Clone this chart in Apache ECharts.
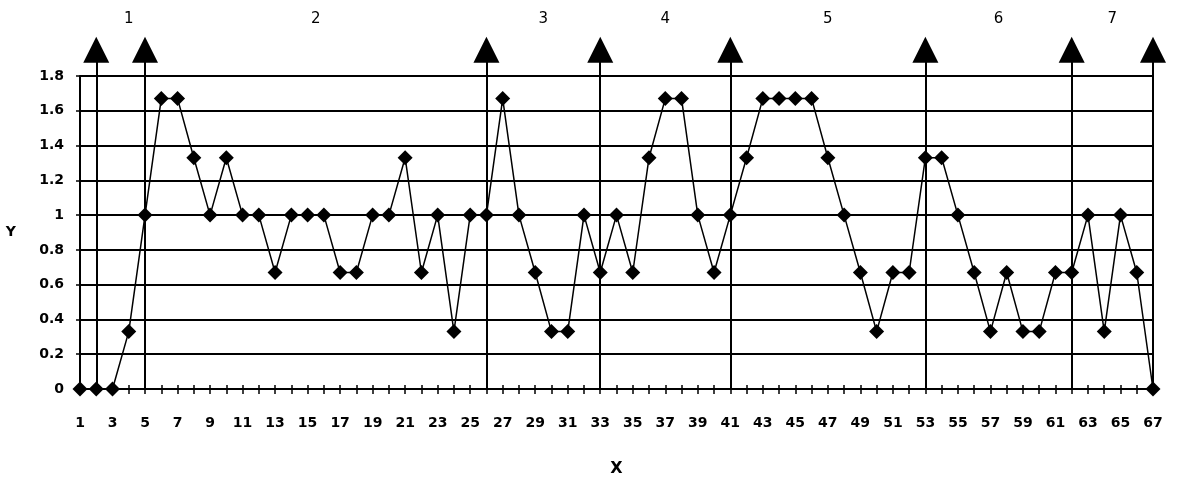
<!DOCTYPE html>
<html>
<head>
<meta charset="utf-8">
<script src="https://cdn.jsdelivr.net/npm/echarts@6/dist/echarts.min.js"></script>
<style>
html,body{margin:0;padding:0;background:#fff;}
#chart{width:1178px;height:482px;}
</style>
</head>
<body>
<div id="chart"></div>
<script>
const categories = ['1','2','3','4','5','6','7','8','9','10','11','12','13','14','15','16','17','18','19','20','21','22','23','24','25','26','27','28','29','30','31','32','33','34','35','36','37','38','39','40','41','42','43','44','45','46','47','48','49','50','51','52','53','54','55','56','57','58','59','60','61','62','63','64','65','66','67'];
const yValues = [0,0,0,0.33,1,1.67,1.67,1.33,1,1.33,1,1,0.67,1,1,1,0.67,0.67,1,1,1.33,0.67,1,0.33,1,1,1.67,1,0.67,0.33,0.33,1,0.67,1,0.67,1.33,1.67,1.67,1,0.67,1,1.33,1.67,1.67,1.67,1.67,1.33,1,0.67,0.33,0.67,0.67,1.33,1.33,1,0.67,0.33,0.67,0.33,0.33,0.67,0.67,1,0.33,1,0.67,0];
const boundaries = [2,5,26,33,41,53,62,67];
const sectionNames = ['1','2','3','4','5','6','7'];
const sectionPositions = [4,15.5,29.5,37,47,57.5,64.5];

const chart = echarts.init(document.getElementById('chart'), null, {renderer:'canvas'});
const FONT = '"DejaVu Sans", "Liberation Sans", Arial, sans-serif';
const axisLabelStyle = {color:'#000', fontFamily:FONT, fontWeight:'bold', fontSize:14};

chart.setOption({
  animation:false,
  backgroundColor:'#fff',
  grid:[
    {left:80, right:25, top:76, bottom:92},
    {left:80, right:25, top:6, bottom:92}
  ],
  xAxis:[
    {type:'category', gridIndex:0, data:categories, boundaryGap:false,
     name:'X', nameLocation:'middle', nameGap:72,
     nameTextStyle:{color:'#000', fontFamily:FONT, fontWeight:'bold', fontSize:16},
     axisLine:{lineStyle:{color:'#000', width:2}},
     axisTick:{show:true, interval:0, length:5, lineStyle:{color:'#000', width:1.5}},
     axisLabel:Object.assign({interval:1, margin:27}, axisLabelStyle),
     splitLine:{show:false}},
    {type:'category', gridIndex:0, data:categories, boundaryGap:false, position:'bottom',
     axisLine:{show:false},
     axisTick:{show:true, inside:true, interval:0, length:4, lineStyle:{color:'#000', width:1.5}},
     axisLabel:{show:false}, splitLine:{show:false}},
    {type:'value', gridIndex:1, min:1, max:67, show:false}
  ],
  yAxis:[
    {type:'value', gridIndex:0, min:0, max:1.8, interval:0.2,
     name:'Y', nameLocation:'middle', nameGap:64, nameRotate:0,
     nameTextStyle:{color:'#000', fontFamily:FONT, fontWeight:'bold', fontSize:14, padding:[40,0,0,0]},
     axisLine:{show:true, lineStyle:{color:'#000', width:2}},
     axisTick:{show:true, length:4, lineStyle:{color:'#000', width:1.5}},
     axisLabel:Object.assign({margin:16, formatter:function(v){return String(Math.round(v*10)/10);}}, axisLabelStyle),
     splitLine:{show:true, lineStyle:{color:'#000', width:2}}},
    {type:'value', gridIndex:1, min:0, max:2.2, show:false}
  ],
  series:[
    {type:'scatter', xAxisIndex:2, yAxisIndex:1, data:[], silent:true, clip:false,
     markLine:{
       silent:true, animation:false,
       symbol:['none','triangle'], symbolSize:[26,26],
       lineStyle:{color:'#000', width:2, type:'solid'},
       label:{show:false},
       data: boundaries.map(b => [{coord:[b,0]},{coord:[b,1.95]}])
     },
     markPoint:{
       silent:true, animation:false,
       symbol:'circle', symbolSize:1,
       itemStyle:{color:'rgba(0,0,0,0)'},
       label:{show:true, position:'inside', formatter:'{b}', color:'#000', fontFamily:FONT, fontSize:15},
       data: sectionNames.map((n,i) => ({name:n, coord:[sectionPositions[i], 2.125]}))
     }
    },
    {type:'line', xAxisIndex:0, yAxisIndex:0, data:yValues, clip:false,
     symbol:'diamond', symbolSize:15, showAllSymbol:true,
     lineStyle:{color:'#000', width:1.5},
     itemStyle:{color:'#000'},
     z:5}
  ]
});
</script>
</body>
</html>
